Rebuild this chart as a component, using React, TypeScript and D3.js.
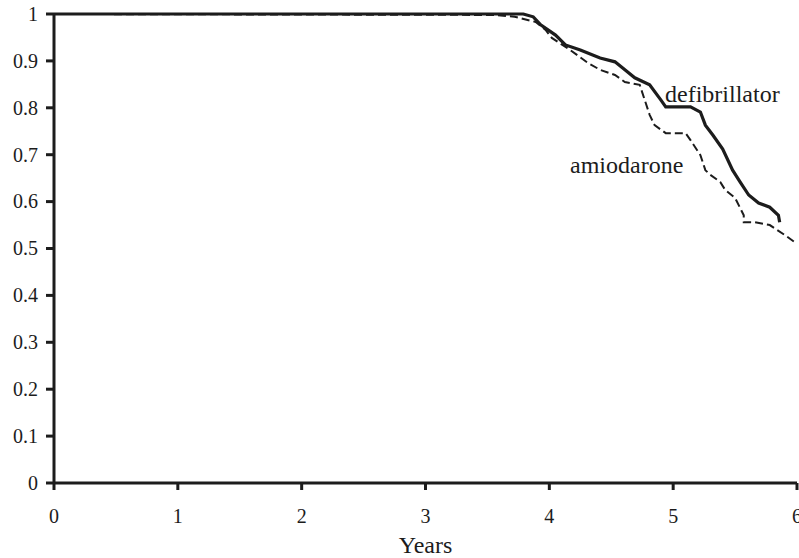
import React from "react";
import * as d3 from "d3";

// survival curves, [years, proportion surviving]
const defibrillator: [number, number][] = [
  [0, 1], [3.79, 1], [3.87, 0.994], [3.93, 0.977], [4.05, 0.955],
  [4.13, 0.934], [4.25, 0.923], [4.41, 0.906], [4.53, 0.898], [4.61, 0.881],
  [4.69, 0.864], [4.81, 0.849], [4.9, 0.817], [4.94, 0.802], [5.14, 0.802],
  [5.22, 0.791], [5.26, 0.763], [5.32, 0.742], [5.4, 0.712], [5.48, 0.667],
  [5.54, 0.642], [5.61, 0.614], [5.69, 0.597], [5.78, 0.588], [5.85, 0.571],
  [5.86, 0.556],
];

const amiodarone: [number, number][] = [
  [0, 1], [3.56, 0.998], [3.72, 0.994], [3.89, 0.983], [3.97, 0.966],
  [4.02, 0.949], [4.17, 0.923], [4.31, 0.896], [4.41, 0.881], [4.53, 0.87],
  [4.61, 0.855], [4.73, 0.849], [4.77, 0.817], [4.81, 0.785], [4.85, 0.763],
  [4.94, 0.746], [5.1, 0.746], [5.14, 0.731], [5.22, 0.699], [5.26, 0.667],
  [5.3, 0.657], [5.38, 0.642], [5.42, 0.625], [5.5, 0.608], [5.57, 0.571],
  [5.57, 0.556], [5.66, 0.556], [5.78, 0.55], [5.9, 0.529], [5.99, 0.512],
];

const yTicks = [0, 0.1, 0.2, 0.3, 0.4, 0.5, 0.6, 0.7, 0.8, 0.9, 1];
const xTicks = [0, 1, 2, 3, 4, 5, 6];

const width = 799;
const height = 558;
const margins = { top: 14, right: 2, bottom: 75, left: 54 };
const font = '"Liberation Serif", "Times New Roman", serif';
const ink = "#1c1c1c";

const App = () => {
  const xScale = d3
    .scaleLinear()
    .domain([0, 6])
    .range([margins.left, width - margins.right]);
  const yScale = d3
    .scaleLinear()
    .domain([0, 1])
    .range([height - margins.bottom, margins.top]);

  const line = d3
    .line<[number, number]>()
    .x((d) => xScale(d[0]))
    .y((d) => yScale(d[1]));

  const y0 = yScale(0);
  const x0 = xScale(0);
  const textStyle = { fontFamily: font };

  return (
    <svg
      width={width}
      height={height}
      style={{ position: "absolute", left: 0, top: 0, background: "#fff" }}
    >
      {/* axes */}
      <line x1={x0} y1={yScale(1)} x2={x0} y2={y0} stroke={ink} strokeWidth={3} />
      <line x1={x0} y1={y0} x2={xScale(6)} y2={y0} stroke={ink} strokeWidth={3} />
      {yTicks.map((t) => (
        <g key={"y" + t}>
          <line x1={x0 - 8} x2={x0} y1={yScale(t)} y2={yScale(t)} stroke={ink} strokeWidth={3} />
          <text
            x={x0 - 16}
            y={yScale(t)}
            dy="0.34em"
            textAnchor="end"
            fontSize={20}
            fill={ink}
            style={textStyle}
          >
            {t}
          </text>
        </g>
      ))}
      {xTicks.map((t) => (
        <g key={"x" + t}>
          <line x1={xScale(t)} x2={xScale(t)} y1={y0} y2={y0 + 7} stroke={ink} strokeWidth={3} />
          <text
            x={xScale(t)}
            y={y0 + 40}
            textAnchor="middle"
            fontSize={20}
            fill={ink}
            style={textStyle}
          >
            {t}
          </text>
        </g>
      ))}
      <text
        x={xScale(3)}
        y={y0 + 70}
        textAnchor="middle"
        fontSize={24}
        fill={ink}
        style={textStyle}
      >
        Years
      </text>

      {/* curves */}
      <path
        d={line(amiodarone) || ""}
        fill="none"
        stroke={ink}
        strokeWidth={2}
        strokeDasharray="8,4"
      />
      <path d={line(defibrillator) || ""} fill="none" stroke={ink} strokeWidth={3.2} />

      <text x={665} y={102} fontSize={24} fill={ink} style={textStyle}>
        defibrillator
      </text>
      <text x={570} y={173} fontSize={24} fill={ink} style={textStyle}>
        amiodarone
      </text>
    </svg>
  );
};

export default App;
